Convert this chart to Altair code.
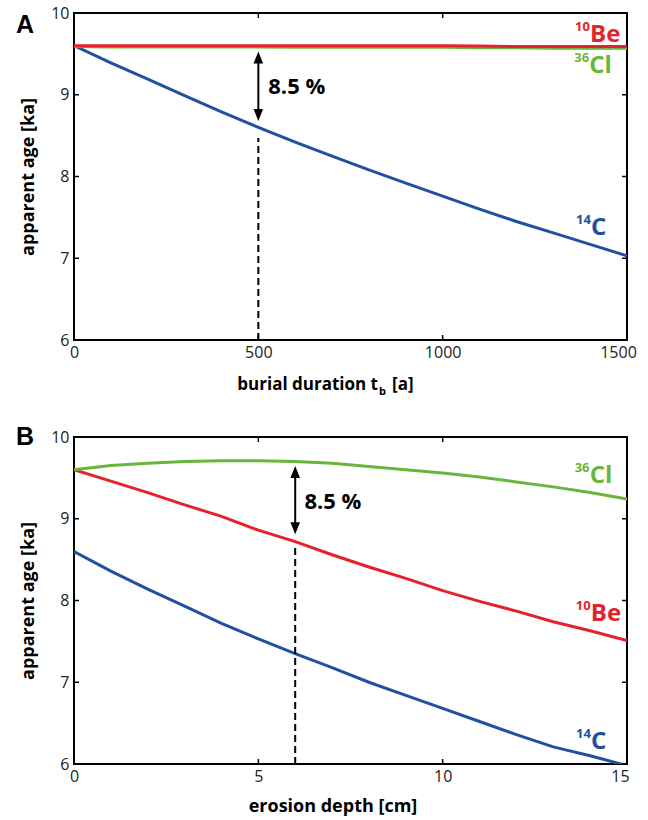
import altair as alt
import pandas as pd

# ---------------- Panel A: apparent age vs burial duration ----------------
burial_t = [0, 100, 200, 300, 400, 500, 600, 700, 800, 900, 1000, 1100, 1200, 1300, 1400, 1500]
a_be10 = [9.60, 9.60, 9.60, 9.60, 9.60, 9.60, 9.60, 9.60, 9.60, 9.60, 9.60, 9.595, 9.59, 9.59, 9.59, 9.59]
a_cl36 = [9.59, 9.585, 9.585, 9.585, 9.585, 9.585, 9.58, 9.58, 9.58, 9.58, 9.58, 9.575, 9.575, 9.57, 9.57, 9.57]
a_c14 = [9.60, 9.39, 9.19, 8.99, 8.79, 8.60, 8.42, 8.25, 8.08, 7.92, 7.76, 7.60, 7.45, 7.31, 7.17, 7.03]

# ---------------- Panel B: apparent age vs erosion depth ----------------
erosion_d = [0, 1, 2, 3, 4, 5, 6, 7, 8, 9, 10, 11, 12, 13, 14, 15]
b_cl36 = [9.60, 9.65, 9.68, 9.70, 9.71, 9.71, 9.70, 9.68, 9.64, 9.60, 9.56, 9.51, 9.45, 9.39, 9.32, 9.24]
b_be10 = [9.60, 9.46, 9.32, 9.17, 9.03, 8.86, 8.72, 8.56, 8.41, 8.27, 8.12, 7.99, 7.87, 7.74, 7.63, 7.51]
b_c14 = [8.60, 8.36, 8.14, 7.93, 7.72, 7.53, 7.35, 7.18, 7.00, 6.84, 6.68, 6.52, 6.36, 6.21, 6.10, 5.98]

a_xticks = [0, 500, 1000, 1500]
b_xticks = [0, 5, 10, 15]
y_ticks = [6, 7, 8, 9, 10]

nuclides = ["14C", "36Cl", "10Be"]
RED, GREEN, BLUE = "#e5222b", "#68b63a", "#2150a2"
colors = [BLUE, GREEN, RED]

W, H = 553, 327
FONT = "Open Sans"


def make_df(xs, series):
    rows = []
    for name, vals in series:
        for x, v in zip(xs, vals):
            rows.append({"x": x, "age": v, "nuclide": name})
    return pd.DataFrame(rows)


one = pd.DataFrame({"k": [0]})


def panel(xs, series, xdom, xticks, last_off, letter, arrow_x, arrow_top, arrow_bot,
          dash_top, pct_xy, labels, title_layers):
    xs_scale = alt.Scale(domain=xdom, nice=False, zero=False)
    ys_scale = alt.Scale(domain=[6, 10], nice=False, zero=False)
    xaxis = alt.Axis(values=xticks, format="d", title=None, ticks=False, tickSize=0, domain=False,
                     grid=False, labelFont=FONT, labelFontSize=16, labelColor="#222",
                     labelPadding=4, labelFlush=False,
                     labelOffset={"condition": {"test": f"datum.value == {xticks[-1]}",
                                                "value": last_off}, "value": 0})
    yaxis = alt.Axis(values=y_ticks, format="d", title="apparent age [ka]", ticks=False, tickSize=0,
                     domain=False, grid=False, labelFont=FONT, labelFontSize=16,
                     labelColor="#222", labelPadding=5, titleFont=FONT,
                     titleFontSize=18, titleFontWeight="bold", titleColor="black",
                     titlePadding=13)
    df = make_df(xs, series)
    lines = alt.Chart(df).mark_line(strokeWidth=3, clip=True).encode(
        x=alt.X("x:Q", scale=xs_scale, axis=xaxis),
        y=alt.Y("age:Q", scale=ys_scale, axis=yaxis),
        color=alt.Color("nuclide:N", scale=alt.Scale(domain=nuclides, range=colors), legend=None),
        detail="nuclide:N",
    )
    xt = pd.DataFrame({"x": xticks})
    yt = pd.DataFrame({"age": y_ticks})
    tick_b = alt.Chart(xt).mark_rule(color="black", strokeWidth=1.5).encode(
        x=alt.X("x:Q", scale=xs_scale, axis=xaxis), y=alt.value(H), y2=alt.value(H - 5))
    tick_t = alt.Chart(xt).mark_rule(color="black", strokeWidth=1.5).encode(
        x=alt.X("x:Q", scale=xs_scale, axis=xaxis), y=alt.value(0), y2=alt.value(5))
    tick_l = alt.Chart(yt).mark_rule(color="black", strokeWidth=1.5).encode(
        y=alt.Y("age:Q", scale=ys_scale, axis=yaxis), x=alt.value(0), x2=alt.value(5))
    tick_r = alt.Chart(yt).mark_rule(color="black", strokeWidth=1.5).encode(
        y=alt.Y("age:Q", scale=ys_scale, axis=yaxis), x=alt.value(W - 5), x2=alt.value(W))

    dash = alt.Chart(one).mark_rule(color="black", strokeWidth=2, strokeDash=[7, 4]).encode(
        x=alt.datum(arrow_x), y=alt.datum(6), y2=alt.datum(dash_top))
    span = arrow_top - arrow_bot
    shaft = alt.Chart(one).mark_rule(color="black", strokeWidth=2).encode(
        x=alt.datum(arrow_x), y=alt.datum(arrow_top - span * 0.05), y2=alt.datum(arrow_bot + span * 0.05))
    head_up = alt.Chart(one).mark_point(shape="M0,0 L0.6,1.5 L-0.6,1.5 Z", filled=True, size=256,
                                        color="black", opacity=1).encode(
        x=alt.datum(arrow_x), y=alt.datum(arrow_top))
    head_dn = alt.Chart(one).mark_point(shape="M0,0 L0.6,-1.5 L-0.6,-1.5 Z", filled=True, size=256,
                                        color="black", opacity=1).encode(
        x=alt.datum(arrow_x), y=alt.datum(arrow_bot))
    pct = alt.Chart(one).mark_text(align="left", baseline="middle", font=FONT, fontSize=22,
                                   fontWeight="bold", color="black").encode(
        x=alt.datum(pct_xy[0]), y=alt.datum(pct_xy[1]), text=alt.value("8.5 %"))

    label_layers = []
    for sup, elem, col, lx, ly in labels:
        label_layers.append(alt.Chart(one).mark_text(
            align="left", baseline="middle", font=FONT, fontSize=13, fontWeight="bold",
            color=col, dy=-8).encode(x=alt.datum(lx), y=alt.datum(ly), text=alt.value(sup)))
        label_layers.append(alt.Chart(one).mark_text(
            align="left", baseline="middle", font=FONT, fontSize=24, fontWeight="bold",
            color=col, dx=15).encode(x=alt.datum(lx), y=alt.datum(ly), text=alt.value(elem)))

    letter_layer = alt.Chart(one).mark_text(
        align="center", baseline="middle", font="Liberation Sans", fontSize=25,
        fontWeight="bold", color="black").encode(
        x=alt.value(-49), y=alt.value(letter[1]), text=alt.value(letter[0]))

    return alt.layer(lines, tick_b, tick_t, tick_l, tick_r, dash, shaft, head_up, head_dn, pct,
                     *label_layers, letter_layer, *title_layers).properties(width=W, height=H)


def title_text(txt, x, y, size=17, align="left"):
    return alt.Chart(one).mark_text(align=align, baseline="alphabetic", font=FONT, fontSize=size,
                                    fontWeight="bold", color="black").encode(
        x=alt.value(x), y=alt.value(y), text=alt.value(txt))


a_titles = [
    title_text("burial duration t", 304, H + 50, align="right"),
    title_text("b", 305, H + 55, size=11),
    title_text("[a]", 318, H + 50),
]
b_titles = [title_text("erosion depth [cm]", 259, H + 48, size=18, align="center")]

chart_a = panel(
    burial_t, [("14C", a_c14), ("36Cl", a_cl36), ("10Be", a_be10)], [0, 1500], a_xticks, -9,
    ("A", 12), 500, 9.53, 8.68, 8.47, (527, 9.09),
    [("10", "Be", RED, 1359, 9.735), ("36", "Cl", GREEN, 1357, 9.35), ("14", "C", BLUE, 1362, 7.375)],
    a_titles)

chart_b = panel(
    erosion_d, [("14C", b_c14), ("10Be", b_be10), ("36Cl", b_cl36)], [0, 15], b_xticks, -7,
    ("B", 0), 6, 9.645, 8.81, 8.66, (6.25, 9.21),
    [("36", "Cl", GREEN, 13.58, 9.52), ("10", "Be", RED, 13.61, 7.83), ("14", "C", BLUE, 13.62, 6.265)],
    b_titles)

chart = alt.vconcat(chart_a, chart_b, spacing=26).properties(
    padding={"left": 14, "top": 4, "right": 5, "bottom": 2}
).configure_view(stroke="black", strokeWidth=2)

chart.save("out.html", embed_options={"renderer": "svg", "actions": False})
